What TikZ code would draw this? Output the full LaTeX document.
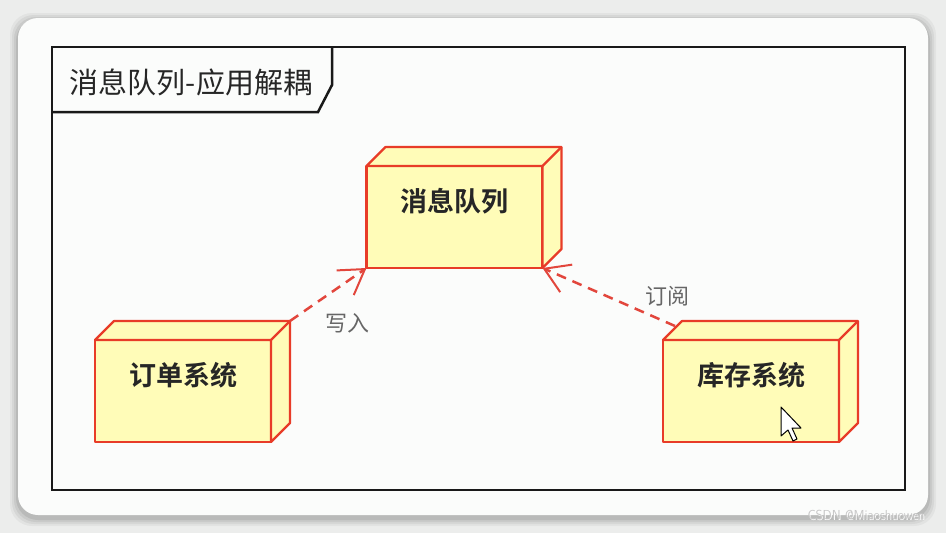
\documentclass[tikz,border=0pt]{standalone}
\usepackage{fontspec}
\newfontfamily\cjk{Noto Sans CJK SC}
\newfontfamily\cjkb{Noto Sans CJK SC Bold}
\usetikzlibrary{calc,arrows.meta}
\definecolor{boxfill}{RGB}{255,252,184}
\definecolor{boxred}{RGB}{232,60,40}
\definecolor{dashred}{RGB}{226,70,60}
\definecolor{bggray}{RGB}{236,237,236}
\definecolor{cardwhite}{RGB}{251,252,251}
\tikzset{
  threed/.style={draw=boxred, fill=boxfill, line width=2.2pt, line join=round},
  nodebox/.style={threed, minimum width=176pt, minimum height=102pt, inner sep=0pt, outer sep=0pt},
  boxtext/.style={font=\cjkb\fontsize{27}{30}\selectfont, text=black!85},
  dep/.style={draw=dashred, line width=2.5pt, dash pattern=on 10pt off 7pt,
    -{Straight Barb[length=24pt,width=30pt,line width=2pt]}},
  deplabel/.style={font=\cjk\fontsize{22}{24}\selectfont, text=black!60},
  frameline/.style={draw=black!90, line width=2.5pt}
}
\begin{document}
\begin{tikzpicture}[x=1pt,y=-1pt]
\useasboundingbox (0,0) rectangle (946,533);
\fill[bggray] (0,0) rectangle (946,533);
% card shadow
\foreach \s/\o in {8/0.04,6/0.05,4/0.06,2/0.08}{
  \fill[black,opacity=\o,rounded corners=22pt] (18-\s,18-\s+3) rectangle (928+\s,515+\s+3);
}
\fill[cardwhite,rounded corners=20pt] (18,18) rectangle (928,515);

% frame
\node[frameline, minimum width=853pt, minimum height=443pt, inner sep=0pt] (frame) at (478.5,268.5) {};
\coordinate (tabA) at (332,47);
\coordinate (tabB) at (332,85);
\coordinate (tabC) at (318,112);
\coordinate (tabD) at (52,112);
\draw[frameline] (tabA) -- (tabB) -- (tabC) -- (tabD);
\node[font=\cjk\fontsize{29}{32}\selectfont, text=black!85] (title) at (191,82) {消息队列-应用解耦};

% boxes
\foreach \n/\x/\y/\t in {mq/454.5/217/消息队列, order/183/391/订单系统, stock/751/391/库存系统}{
  \node[nodebox] (\n) at (\x,\y) {};
  \draw[threed] (\n.north west) -- ($(\n.north west)+(19,-19)$) -- ($(\n.north east)+(19,-19)$)
     -- ($(\n.south east)+(19,-19)$) -- (\n.south east) -- (\n.north east) -- cycle;
  \draw[threed] (\n.north east) -- ($(\n.north east)+(19,-19)$);
  \node[boxtext] (\n-t) at ($(\n.center)+(0,-16)$) {\t};
}

% connectors
\coordinate (orderback) at ($(order.north east)+(19,-19)$);
\coordinate (stockback) at ($(stock.north west)+(12,-14)$);
\draw[dep] (orderback) -- (mq.south west);
\draw[dep] (stockback) -- (mq.south east);
\node[deplabel] (lw) at (347,323) {写入};
\node[deplabel] (ls) at (667,296) {订阅};

% mouse cursor
\draw[fill=white, draw=black, line width=1pt, line join=round]
  (781,407) -- (781,436) -- (788,430) -- (793,441) -- (797,439) -- (792,428) -- (801,428) -- cycle;

% watermark
\node[font=\fontsize{13}{15}\selectfont\sffamily, text=white, anchor=east] (wm) at (929,516) {CSDN @Miaoshuowen};
\node[font=\fontsize{13}{15}\selectfont\sffamily, text=gray!45, anchor=east] (wm2) at (928,515) {CSDN @Miaoshuowen};
\end{tikzpicture}
\end{document}
